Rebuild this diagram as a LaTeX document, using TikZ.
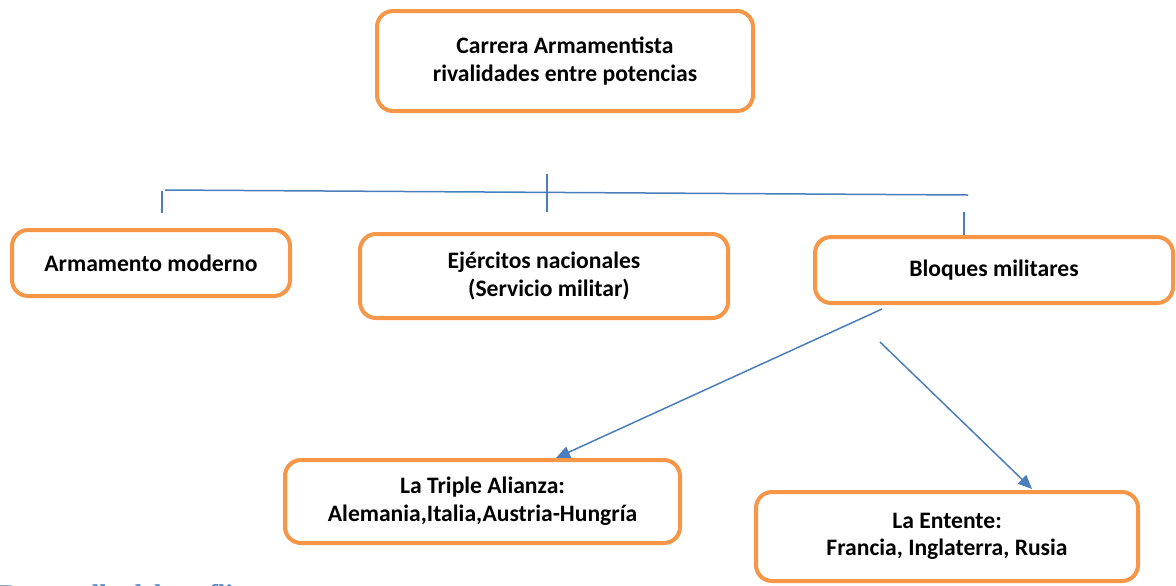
\documentclass[tikz,border=0pt]{standalone}
\usepackage{fontspec}
\setmainfont{Carlito}
\newfontfamily\headfont{Liberation Serif}
\usetikzlibrary{arrows.meta}
\definecolor{boxorange}{HTML}{F79646}
\definecolor{lineblue}{HTML}{4A7EBB}
\definecolor{headblue}{HTML}{4F81BD}

\begin{document}
\begin{tikzpicture}[x=0.5pt,y=-0.5pt,
  box/.style={draw=boxorange,line width=2pt,rounded corners=8pt,fill=white,align=center,inner sep=0pt,
    font=\bfseries\fontsize{11.8}{13.8}\selectfont},
  boxdim/.style 2 args={minimum width=#1,minimum height=#2},
  link/.style={draw=lineblue,line width=0.75pt},
  arr/.style={link,-{Triangle[length=7pt,width=6pt]}}]
\useasboundingbox (0,0) rectangle (1176,585);
\clip (0,0) rectangle (1176,585);

\node[box,boxdim={188pt}{50pt}] (carrera) at (565,61) {Carrera Armamentista\\rivalidades entre potencias};
\node[box,boxdim={139pt}{33pt}] (armamento) at (151,263) {Armamento moderno};
\node[box,boxdim={184pt}{42pt}] (ejercitos) at (544,276) {Ejércitos nacionales\\\hspace*{5pt}(Servicio militar)};
\node[box,boxdim={179pt}{33pt}] (bloques) at (994,270) {Bloques militares};
\node[box,boxdim={197.5pt}{41.5pt}] (triple) at (482.5,501.5) {La Triple Alianza:\\Alemania,Italia,Austria-Hungría};
\node[box,boxdim={191pt}{44.5pt}] (entente) at (947,536.5) {La Entente:\\Francia, Inglaterra, Rusia};
\node[anchor=base west,inner sep=0pt,text=headblue,font=\headfont\bfseries\fontsize{13.5}{16}\selectfont] (titulo) at (-1,603) {Desarrollo del conflicto};

\coordinate (barL) at (165,190);
\coordinate (barR) at (968,195);
\draw[link] (barL) -- (barR);
\coordinate (tickL) at (162,191);
\draw[link,line width=1pt] (tickL) -- ++(0,22);
\coordinate (tickM) at (547,174);
\draw[link,line width=1pt] (tickM) -- ++(0,38);
\coordinate (tickR) at (964,212);
\draw[link] (tickR) -- (tickR |- bloques.north);

\coordinate (fromA) at (882,309);
\coordinate (toA) at (556,458);
\draw[arr] (fromA) -- (toA);
\coordinate (fromB) at (880,342);
\coordinate (toB) at (1032,489);
\draw[arr] (fromB) -- (toB);
\end{tikzpicture}
\end{document}
